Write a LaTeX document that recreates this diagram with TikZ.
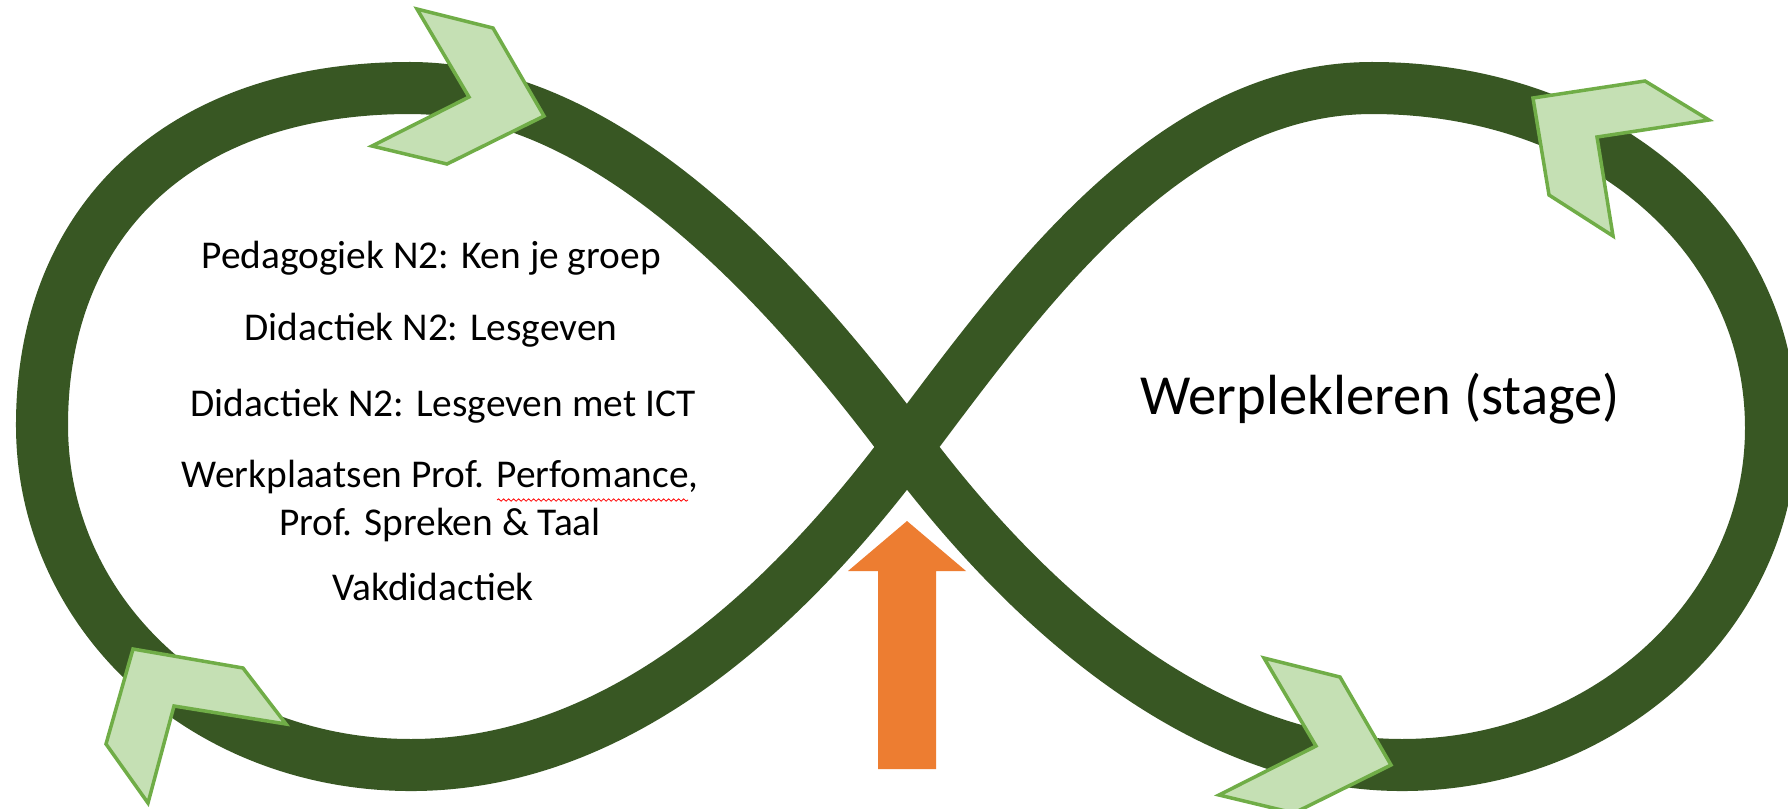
\documentclass[tikz,border=0pt]{standalone}
\usepackage{fontspec}
\setmainfont{Carlito}
\usetikzlibrary{decorations.pathmorphing}
\definecolor{bandgreen}{HTML}{385723}
\definecolor{chevfill}{HTML}{C5E0B4}
\definecolor{chevline}{HTML}{70AD47}
\definecolor{arroworange}{HTML}{ED7D31}
\tikzset{
  infband/.style={draw=bandgreen, line width=0.52cm},
  chevron/.style={fill=chevfill, draw=chevline, line width=0.035cm, line join=miter},
  uparrow/.style={fill=arroworange, draw=none},
  lefttext/.style={font=\fontsize{11.2}{13.5}\selectfont, align=center, inner sep=0pt, anchor=center},
  righttext/.style={font=\fontsize{16.1}{19}\selectfont, align=center, inner sep=0pt, anchor=center},
  spell/.style={draw=red, line width=0.008cm, decorate, decoration={snake, segment length=0.05cm, amplitude=0.012cm}}
}
\begin{document}
\begin{tikzpicture}[x=0.01cm, y=-0.01cm]
\useasboundingbox (0,0) rectangle (1788,808);
\clip (0,0) rectangle (1788,808);
\fill[white] (0,0) rectangle (1788,808);

% key points of the infinity band
\coordinate (C) at (907,447);
\coordinate (T1) at (410,88);
\coordinate (L) at (42,425);
\coordinate (B1) at (411,765);
\coordinate (T2) at (1372,88);
\coordinate (R) at (1771,428);
\coordinate (B2) at (1402,765);

\draw[infband] (C) .. controls (787,287) and (610,88) .. (T1)
  .. controls (175,88) and (42,225) .. (L)
  .. controls (42,615) and (205,765) .. (B1)
  .. controls (620,765) and (787,607) .. (C)
  .. controls (1027,287) and (1170,88) .. (T2)
  .. controls (1600,88) and (1771,235) .. (R)
  .. controls (1771,614) and (1605,765) .. (B2)
  .. controls (1202,765) and (1027,607) .. cycle;

% chevrons
\draw[chevron] (417,9) -- (493,28) -- (544,116) -- (447,164) -- (372,146) -- (469,97) -- cycle;
\draw[chevron] (1533,98) -- (1645,81) -- (1709,120) -- (1597,137) -- (1613,236) -- (1549,195) -- cycle;
\draw[chevron] (133,649) -- (243,668) -- (286,724) -- (174,706) -- (148,803) -- (106,744) -- cycle;
\draw[chevron] (1264,658) -- (1340,677) -- (1391,765) -- (1294,813) -- (1219,795) -- (1316,746) -- cycle;

% orange arrow
\fill[uparrow] (907,521) -- (966,571) -- (936,571) -- (936,769) -- (878,769) -- (878,571) -- (848,571) -- cycle;

% texts
\node[lefttext] (t1) at (431,258) {Pedagogiek N2: Ken je groep};
\node[lefttext] (t2) at (431,330) {Didactiek N2: Lesgeven};
\node[lefttext] (t3) at (443,406) {Didactiek N2: Lesgeven met ICT};
\node[lefttext] (t4) at (440,501) {Werkplaatsen Prof. Perfomance,\\Prof. Spreken \& Taal};
\node[lefttext] (t5) at (433,587) {Vakdidactiek};
\node[righttext] (w) at (1380,399) {Werplekleren (stage)};

\draw[spell] (497,500) -- (688,500);
\end{tikzpicture}
\end{document}
